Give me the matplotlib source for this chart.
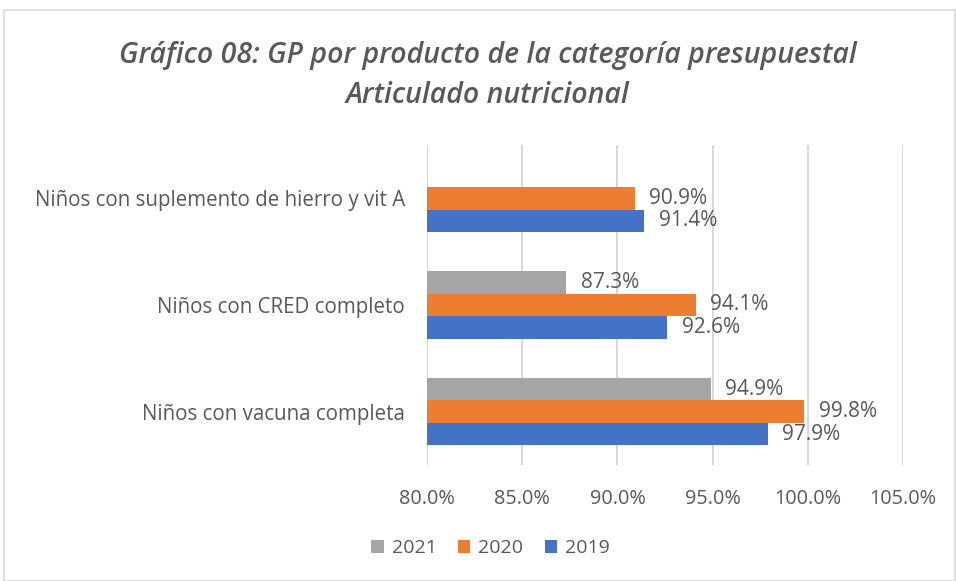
import numpy as np
import matplotlib
matplotlib.use("Agg")
import matplotlib.pyplot as plt
from matplotlib.patches import Rectangle

plt.rcParams['font.family'] = ['Open Sans', 'DejaVu Sans']

categories = ["Niños con vacuna completa",
              "Niños con CRED completo",
              "Niños con suplemento de hierro y vit A"]
years = ["2021", "2020", "2019"]
v2021 = [94.9, 87.3, np.nan]
v2020 = [99.8, 94.1, 90.9]
v2019 = [97.9, 92.6, 91.4]

colors = {"2021": "#A5A5A5", "2020": "#ED7D31", "2019": "#4472C4"}
text_col = "#595959"

fig = plt.figure(figsize=(9.56, 5.81), dpi=100)
ax = fig.add_axes([0.4467, 0.1997, 0.4979, 0.5507])

# light frame round the whole chart
fig.patches.append(Rectangle((0.004, 0.0), 0.995, 0.983, transform=fig.transFigure,
                             fill=False, edgecolor="#D9D9D9", lw=1.2))

y = np.arange(len(categories))
h = 0.21
series = [("2021", v2021, h), ("2020", v2020, 0.0), ("2019", v2019, -h)]
for name, vals, off in series:
    vals = np.array(vals, dtype=float)
    bars = ax.barh(y + off, np.nan_to_num(vals), height=h, color=colors[name],
                   label=name, zorder=3)
    labels = ["" if np.isnan(v) else "%.1f%%" % v for v in vals]
    ax.bar_label(bars, labels=labels, padding=10.5, fontsize=15, color=text_col)

ax.set_xlim(80, 105)
ax.set_ylim(-0.5, 2.5)
ax.set_xticks(np.arange(80, 106, 5))
ax.set_xticklabels(["%.1f%%" % t for t in np.arange(80, 106, 5)])
ax.set_yticks(y)
ax.set_yticklabels(categories)
ax.tick_params(axis="both", length=0, labelcolor=text_col)
ax.tick_params(axis="x", pad=17.5, labelsize=14.3)
ax.tick_params(axis="y", pad=16, labelsize=14.8)
ax.grid(axis="x", color="#D9D9D9", lw=1.5, zorder=0)
for s in ax.spines.values():
    s.set_visible(False)

title_kw = dict(ha="center", va="center", fontsize=20.5, style="italic",
                fontweight="semibold", color=text_col)
fig.text(0.51, 0.904, "Gráfico 08: GP por producto de la categoría presupuestal", **title_kw)
fig.text(0.51, 0.835, "Articulado nutricional", **title_kw)

handles, labs = ax.get_legend_handles_labels()
fig.legend(handles, labs, loc="center", bbox_to_anchor=(0.513, 0.057), ncol=3,
           frameon=False, fontsize=14, labelcolor=text_col, handlelength=0.65,
           handleheight=0.65, handletextpad=0.4, columnspacing=1.1)

fig.savefig("out.png", dpi=100)
